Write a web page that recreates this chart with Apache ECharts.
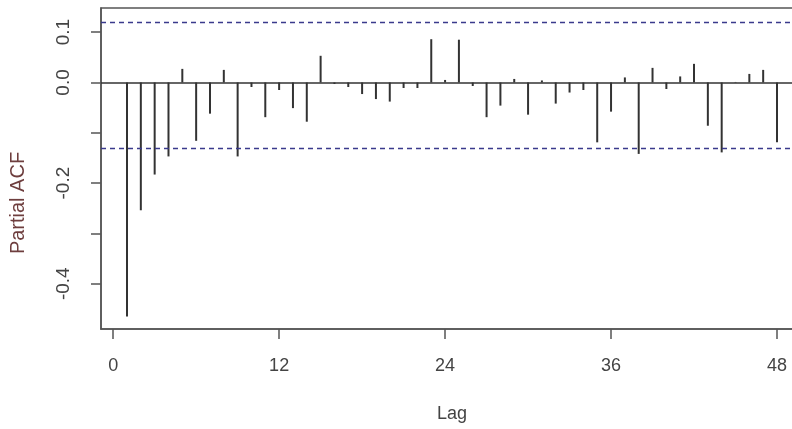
<!DOCTYPE html>
<html>
<head>
<meta charset="utf-8">
<script src="https://cdn.jsdelivr.net/npm/echarts@6/dist/echarts.min.js"></script>
<style>html,body{margin:0;padding:0;background:#fff;}#c{width:792px;height:429px;}</style>
</head>
<body>
<div id="c"></div>
<script>
var lags = [1,2,3,4,5,6,7,8,9,10,11,12,13,14,15,16,17,18,19,20,21,22,23,24,25,26,27,28,29,30,31,32,33,34,35,36,37,38,39,40,41,42,43,44,45,46,47,48];
var pacf = [-0.465,-0.254,-0.183,-0.147,0.027,-0.116,-0.062,0.025,-0.147,-0.009,-0.069,-0.015,-0.051,-0.078,0.053,-0.003,-0.009,-0.023,-0.033,-0.038,-0.011,-0.011,0.086,0.005,0.085,-0.007,-0.069,-0.046,0.007,-0.064,0.004,-0.042,-0.020,-0.015,-0.119,-0.058,0.010,-0.142,0.029,-0.013,0.012,0.037,-0.086,-0.139,0.001,0.017,0.025,-0.119];
var ciUpper = 0.124;
var ciLower = -0.127;
var xTicks = [0,12,24,36,48];
var yTicks = [-0.4,-0.3,-0.2,-0.1,0.0,0.1];
var yLabels = [-0.4,-0.2,0.0,0.1];

var chart = echarts.init(document.getElementById('c'), null, {renderer:'canvas'});
var font = 'Liberation Sans, Arial, sans-serif';
chart.setOption({
  animation:false,
  backgroundColor:'#ffffff',
  grid:{left:101, top:8, right:-11, bottom:100, outerBoundsMode:'none', containLabel:false, show:true, borderColor:'#555', borderWidth:1.5, backgroundColor:'transparent'},
  xAxis:{
    type:'value', min:-0.88, max:49.88,
    name:'Lag', nameLocation:'middle', nameGap:76,
    nameTextStyle:{fontFamily:font, fontSize:18, color:'#444'},
    axisLine:{show:true, onZero:false, lineStyle:{color:'#555', width:1.5}},
    axisTick:{show:true, length:10, customValues:xTicks, lineStyle:{color:'#555', width:1.5}},
    axisLabel:{customValues:xTicks, margin:28, fontFamily:font, fontSize:18, color:'#444', formatter:function(v){return String(v);}},
    splitLine:{show:false}
  },
  yAxis:{
    type:'value', min:-0.49, max:0.148,
    axisLine:{show:true, onZero:false, lineStyle:{color:'#555', width:1.5}},
    axisTick:{show:true, length:10, customValues:yTicks, lineStyle:{color:'#555', width:1.5}},
    axisLabel:{customValues:yLabels, rotate:90, margin:28, fontFamily:font, fontSize:19, color:'#444',
      formatter:function(v){return v.toFixed(1);}},
    splitLine:{show:false}
  },
  graphic:[{
    type:'text', x:18, y:203, rotation:Math.PI/2,
    style:{text:'Partial ACF', fontFamily:font, fontSize:20, fill:'#6e3e3e', align:'center', verticalAlign:'middle'}
  }],
  series:[{
    type:'bar', barWidth:2,
    itemStyle:{color:'#333'},
    data:lags.map(function(l,i){return [l,pacf[i]];}),
    markLine:{
      silent:true, symbol:'none', label:{show:false},
      data:[
        {yAxis:0, lineStyle:{color:'#333', type:'solid', width:1.5}},
        {yAxis:ciUpper, lineStyle:{color:'#3a3a8c', type:[5,4], width:1.3}},
        {yAxis:ciLower, lineStyle:{color:'#3a3a8c', type:[5,4], width:1.3}}
      ]
    }
  }]
});
</script>
</body>
</html>
